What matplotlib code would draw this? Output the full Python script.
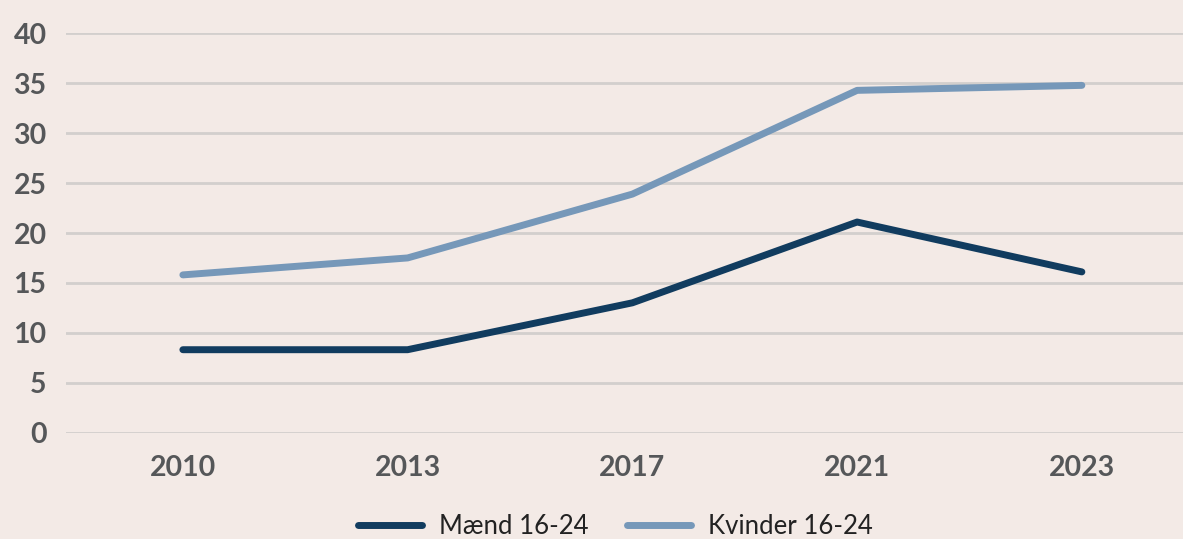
import matplotlib.pyplot as plt

# Data
years = ["2010", "2013", "2017", "2021", "2023"]
maend = [8.3, 8.3, 13.0, 21.1, 16.1]
kvinder = [15.8, 17.5, 23.9, 34.3, 34.8]
yticks = [0, 5, 10, 15, 20, 25, 30, 35, 40]

BG = "#F3EAE6"
NAVY = "#113C5F"
LIGHT = "#7698B9"
GRID = "#D2CFCD"
TXT = "#555759"

plt.rcParams["font.family"] = ["Lato", "DejaVu Sans"]

fig = plt.figure(figsize=(11.83, 5.39), dpi=100, facecolor=BG)
ax = fig.add_axes([66 / 1183, 106.5 / 539, 1 - 66 / 1183, 399 / 539])
ax.set_facecolor(BG)

x = list(range(len(years)))
ax.plot(x, maend, color=NAVY, lw=5, solid_capstyle="round", label="Mænd 16-24", zorder=3)
ax.plot(x, kvinder, color=LIGHT, lw=5, solid_capstyle="round", label="Kvinder 16-24", zorder=3)

ax.set_ylim(0, 40)
ax.set_xlim(-0.52, 4.45)
ax.set_yticks(yticks)
ax.set_xticks(x)
ax.set_xticklabels(years)
ax.grid(axis="y", color=GRID, lw=2)
ax.set_axisbelow(True)
for s in ax.spines.values():
    s.set_visible(False)
ax.tick_params(axis="both", length=0, labelsize=20.5, labelcolor=TXT)
ax.tick_params(axis="y", pad=14)
ax.tick_params(axis="x", pad=16)
for lab in ax.get_xticklabels() + ax.get_yticklabels():
    lab.set_fontweight("bold")

fig.legend(loc="center", bbox_to_anchor=(615 / 1183, 1 - 526 / 539), ncol=2,
           frameon=False, fontsize=18.5, handlelength=2.5, handletextpad=0.65,
           columnspacing=1.5, labelcolor="#222222")

fig.savefig("out.png", dpi=100, facecolor=BG)
